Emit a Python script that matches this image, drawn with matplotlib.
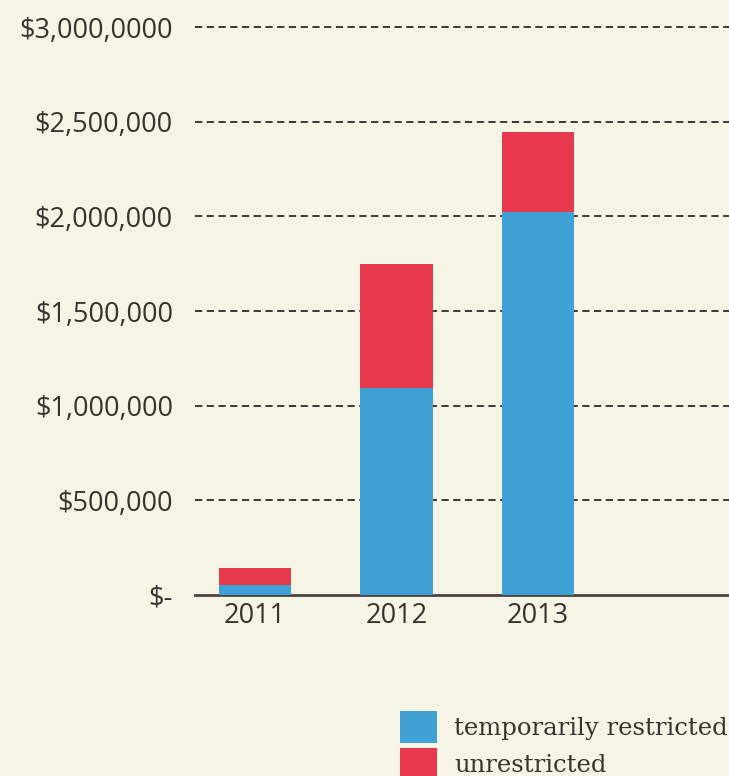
import matplotlib.pyplot as plt

years = ['2011', '2012', '2013']
temporarily_restricted = [53000, 1093000, 2023000]
unrestricted = [90000, 655000, 423000]
y_ticks = [0, 500000, 1000000, 1500000, 2000000, 2500000, 3000000]
y_labels = ['$-', '$500,000', '$1,000,000', '$1,500,000', '$2,000,000', '$2,500,000', '$3,000,0000']

bg = '#f6f4e4'
blue = '#40a1d5'
red = '#e8384c'
text_col = '#3a3230'

fig = plt.figure(figsize=(7.29, 7.76), dpi=100, facecolor=bg)
ax = fig.add_axes([195 / 729, 1 - 595 / 776, 1 - 195 / 729, (595 - 27) / 776])
ax.set_facecolor(bg)

x = range(len(years))
ax.bar(x, temporarily_restricted, width=0.51, color=blue, label='temporarily restricted', zorder=3)
ax.bar(x, unrestricted, width=0.51, bottom=temporarily_restricted, color=red, label='unrestricted', zorder=3)

ax.set_xlim(-0.424, 3.35)
ax.set_ylim(0, 3000000)
ax.set_yticks(y_ticks)
ax.set_yticklabels(y_labels)
ax.set_xticks(list(x))
ax.set_xticklabels(years)

# dashed grid, solid baseline
for t in y_ticks[1:]:
    ax.axhline(t, color='#2f2a28', linewidth=1.3, linestyle=(0, (4, 2.5)), zorder=1, clip_on=False)
for side in ['top', 'right', 'left']:
    ax.spines[side].set_visible(False)
ax.spines['bottom'].set_color('#4a4442')
ax.spines['bottom'].set_linewidth(2)

ax.tick_params(axis='y', length=0, pad=16, labelsize=19.5, labelcolor=text_col)
ax.tick_params(axis='x', length=0, pad=5, labelsize=19.5, labelcolor=text_col)
for lbl in ax.get_yticklabels() + ax.get_xticklabels():
    lbl.set_fontfamily('Open Sans')

fig.legend(loc='upper left', bbox_to_anchor=(400 / 729, 1 - 711 / 776), frameon=False,
           prop={'family': 'DejaVu Serif', 'size': 17.5}, labelcolor=text_col,
           handlelength=1.52, handleheight=1.65, handletextpad=0.7, labelspacing=0.2,
           borderaxespad=0, borderpad=0)

fig.savefig('out.png', dpi=100, facecolor=bg)
